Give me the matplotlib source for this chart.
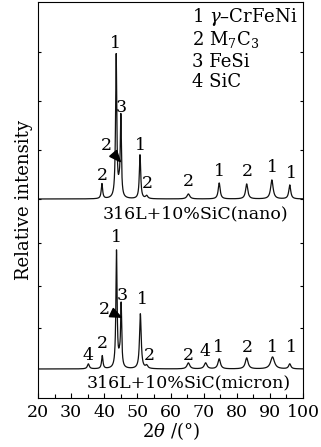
import numpy as np
import matplotlib
matplotlib.use("Agg")
import matplotlib.pyplot as plt

plt.rcParams['font.family'] = ['DejaVu Serif']
plt.rcParams['mathtext.fontset'] = 'dejavuserif'

# ---- data ----
nano_baseline = 199
nano_pos = [39.3, 43.6, 44.5, 45.0, 50.8, 52.8, 65.4, 74.7, 83.0, 90.6, 96.0]
nano_amp = [15, 143, 8, 80, 44, 3, 5, 16, 15, 19, 14]
nano_hw = [0.25, 0.22, 0.3, 0.2, 0.25, 0.4, 0.5, 0.35, 0.4, 0.45, 0.35]

micron_baseline = 29
micron_pos = [35.2, 39.4, 43.7, 44.6, 45.1, 50.9, 52.8, 65.4, 70.6, 74.7, 83.0, 90.8, 96.0]
micron_amp = [5, 13, 117, 8, 62, 55, 3, 6, 6, 10, 11, 12, 5]
micron_hw = [0.35, 0.25, 0.22, 0.3, 0.2, 0.3, 0.4, 0.5, 0.5, 0.45, 0.5, 0.7, 0.4]

nano_labels = ['2', '1', '3', '2', '1', '2', '2', '1', '2', '1', '1']
nano_lx = [39.3, 43.5, 45.1, 40.5, 50.8, 52.9, 65.3, 74.9, 83.1, 90.9, 96.4]
nano_ly = [222, 355, 290, 253, 252, 215, 216, 226, 227, 230, 225]

micron_labels = ['4', '2', '1', '2', '3', '1', '2', '2', '4', '1', '2', '1', '1']
micron_lx = [35.1, 39.3, 43.8, 39.9, 45.4, 51.4, 53.5, 65.3, 70.4, 74.6, 83.1, 90.9, 96.4]
micron_ly = [43, 55, 160, 89, 103, 98, 43, 43, 46, 50, 50, 51, 50]

legend_lines = [r'1 $\gamma$–CrFeNi', r'2 M$_7$C$_3$', '3 FeSi', '4 SiC']
x_ticks = [20, 30, 40, 50, 60, 70, 80, 90, 100]


def pattern(x, base, pos, amp, hw):
    y = np.full_like(x, float(base))
    for p, a, w in zip(pos, amp, hw):
        y += a * w**2 / ((x - p)**2 + w**2)
    return y


fig = plt.figure(figsize=(3.21, 4.47), dpi=100)
ax = fig.add_axes([38/321, 49/447, 265/321, 396/447])

x = np.linspace(20, 100, 4000)
ax.plot(x, pattern(x, nano_baseline, nano_pos, nano_amp, nano_hw), color='#111111', lw=0.9)
ax.plot(x, pattern(x, micron_baseline, micron_pos, micron_amp, micron_hw), color='#111111', lw=0.9)

ax.set_xlim(20, 100)
ax.set_ylim(0, 396)
ax.set_xticks(x_ticks)
ax.set_xticks(np.arange(25, 100, 10), minor=True)
ax.set_yticks([346, 297, 248, 199, 155, 112, 70])
ax.set_yticklabels([])
ax.tick_params(axis='x', direction='in', length=3.5, width=0.8, labelsize=12.5, pad=4)
ax.tick_params(axis='x', which='minor', direction='in', length=3, width=0.8)
ax.tick_params(axis='y', direction='in', length=2.5, width=0.8, left=True, right=True)
for s in ax.spines.values():
    s.set_linewidth(0.8)

ax.set_xlabel(r'$2\theta$ /(°)', fontsize=13, labelpad=0)
ax.set_ylabel('Relative intensity', fontsize=13, labelpad=0)

fs = 12.5
skip_n = 3
for i, (t, lx, ly) in enumerate(zip(nano_labels, nano_lx, nano_ly)):
    if i == skip_n:
        continue
    ax.text(lx, ly, t, ha='center', va='center', fontsize=fs)
skip_m = 3
for i, (t, lx, ly) in enumerate(zip(micron_labels, micron_lx, micron_ly)):
    if i == skip_m:
        continue
    ax.text(lx, ly, t, ha='center', va='center', fontsize=fs)

ax.annotate(nano_labels[skip_n], xy=(45.2, 235), xytext=(nano_lx[skip_n], nano_ly[skip_n]),
            ha='center', va='center', fontsize=fs,
            arrowprops=dict(arrowstyle='-|>,head_length=0.6,head_width=0.25', color='black', lw=1.2,
                            shrinkA=2, shrinkB=0))
ax.annotate(micron_labels[skip_m], xy=(45.6, 80), xytext=(micron_lx[skip_m], micron_ly[skip_m]),
            ha='center', va='center', fontsize=fs,
            arrowprops=dict(arrowstyle='-|>,head_length=0.6,head_width=0.25', color='black', lw=1.2,
                            shrinkA=2, shrinkB=0))

ax.text(67.4, 184, '316L+10%SiC(nano)', ha='center', va='center', fontsize=12.5)
ax.text(65.4, 15, '316L+10%SiC(micron)', ha='center', va='center', fontsize=12.5)

leg_y = [381, 359, 336, 316]
for t, ly in zip(legend_lines, leg_y):
    ax.text(66.6, ly, t, ha='left', va='center', fontsize=13)

fig.savefig('out.png', dpi=100)
